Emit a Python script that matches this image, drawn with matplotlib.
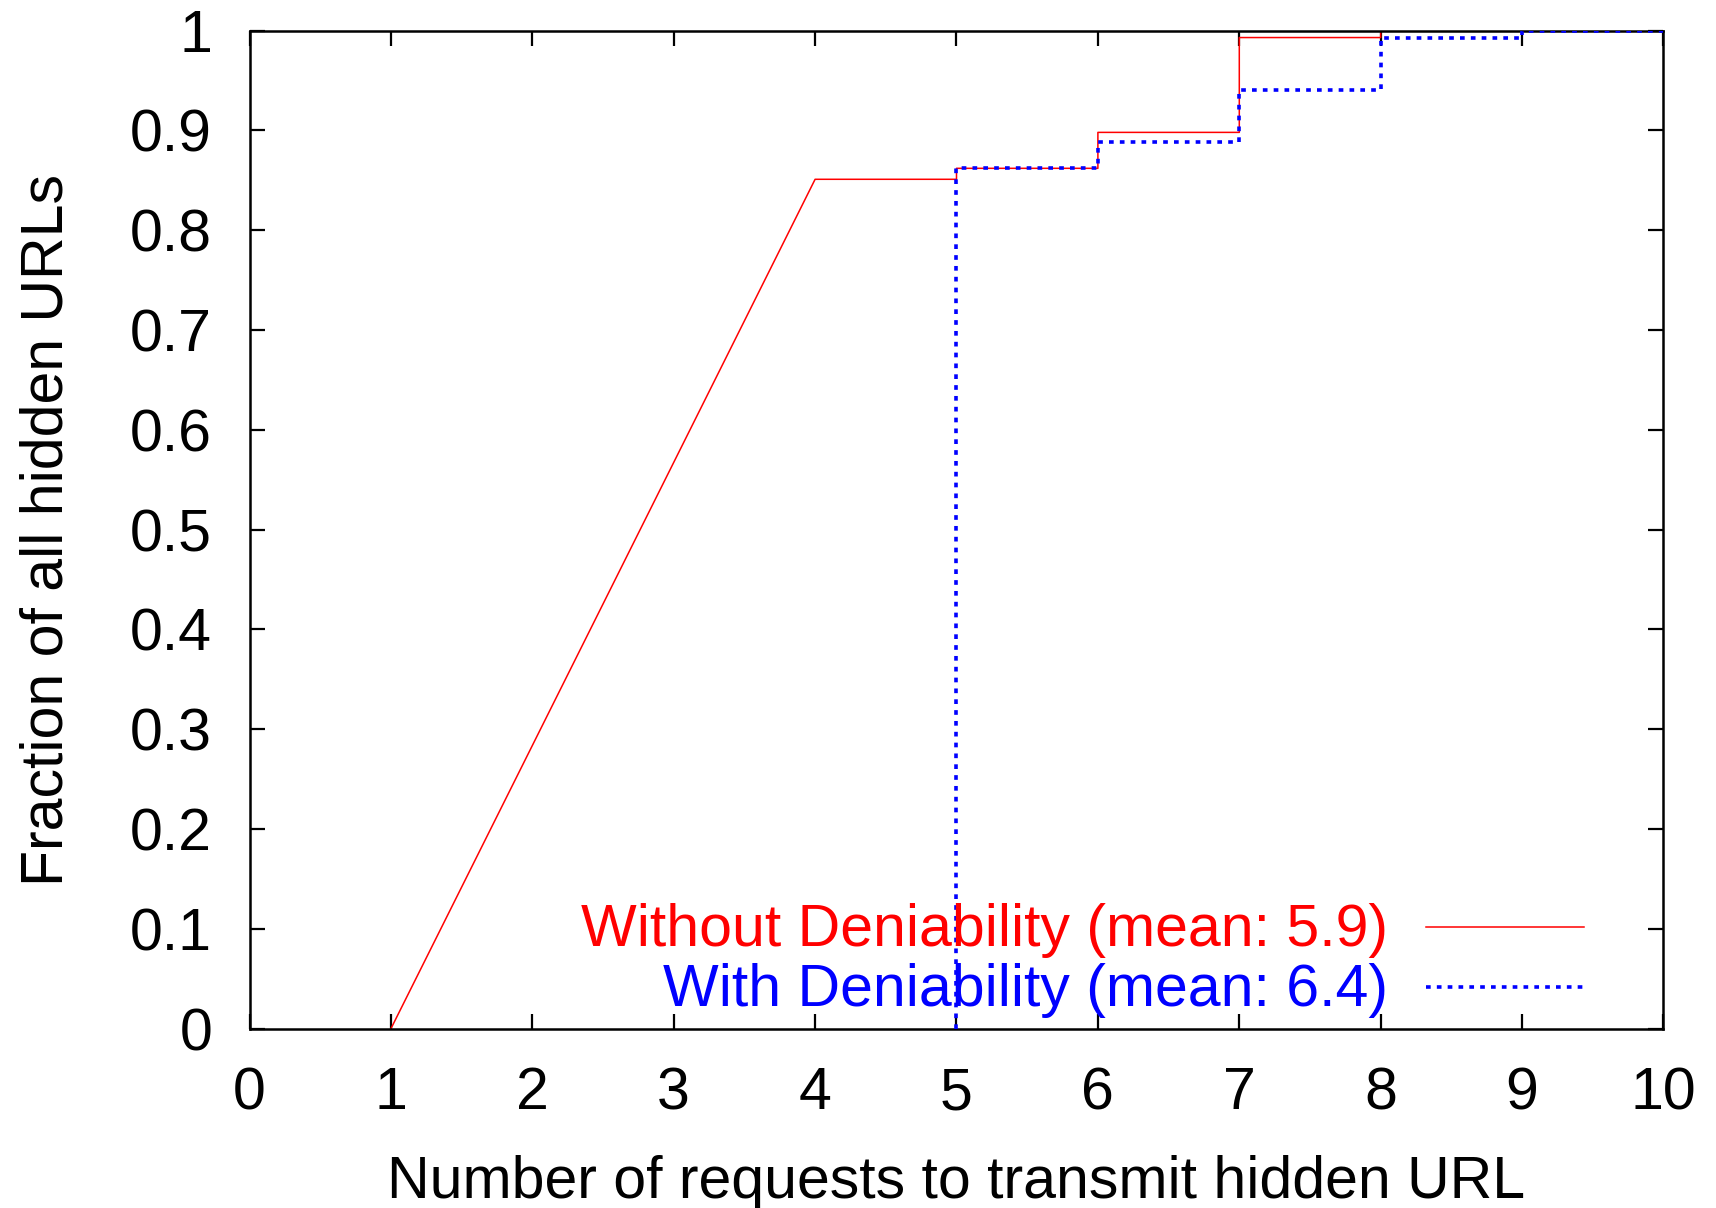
#!/usr/bin/env python3
"""
CDF of the number of requests needed to transmit a hidden URL,
with and without deniability (gnuplot-style look).
"""
import matplotlib
matplotlib.use("Agg")
import matplotlib.pyplot as plt
import numpy as np

# Without deniability: ramps from 1 to 4, then steps
red_x = [1, 4, 5, 6, 7, 8, 9, 10]
red_y = [0.0, 0.851, 0.862, 0.898, 0.993, 1.0, 1.0, 1.0]

# With deniability: nothing before 5 requests, then steps
blue_x = [5, 5, 6, 7, 8, 9, 10]
blue_y = [0.0, 0.862, 0.888, 0.940, 0.993, 1.0, 1.0]

labels = ["Without Deniability (mean: 5.9)", "With Deniability (mean: 6.4)"]
colors = ["#ff0000", "#0000ff"]

plt.rcParams["font.family"] = ["Liberation Sans", "DejaVu Sans"]
FS = 42.5
DOTS = (0, (1.3, 1.7))

fig = plt.figure(figsize=(17.16, 12.08), dpi=100)
ax = fig.add_axes([0.1454, 0.1484, 0.8240, 0.8263])

# red: straight ramp for the first segment, then gnuplot-like steps
rx = [red_x[0]]
ry = [red_y[0]]
for i in range(1, len(red_x)):
    if i > 1:
        rx.append(red_x[i])
        ry.append(red_y[i - 1])
    rx.append(red_x[i])
    ry.append(red_y[i])
ax.plot(rx, ry, color=colors[0], lw=1.1, zorder=2)

ax.step(blue_x, blue_y, where="post", color=colors[1], lw=2.6,
        linestyle=DOTS, zorder=3)

ax.set_xlim(0, 10)
ax.set_ylim(0, 1)
ax.set_xticks(np.arange(0, 11, 1))
ax.set_yticks(np.arange(0, 1.01, 0.1))
ax.set_yticklabels(["0"] + [f"{v:.1f}" for v in np.arange(0.1, 1.0, 0.1)] + ["1"])

for s in ax.spines.values():
    s.set_linewidth(1.8)
ax.tick_params(direction="in", length=11, width=1.6, labelsize=FS,
               top=True, right=True)
ax.tick_params(axis="x", pad=27)
ax.tick_params(axis="y", pad=27)

ax.set_xlabel("Number of requests to transmit hidden URL", fontsize=FS, labelpad=24)
ax.set_ylabel("Fraction of all hidden URLs", fontsize=FS, labelpad=40)

# gnuplot-style key: right-aligned text, sample line on the right
key_y = [0.102, 0.042]
key_styles = [dict(lw=1.1, linestyle="-"), dict(lw=2.6, linestyle=DOTS)]
for lab, col, yy, st in zip(labels, colors, key_y, key_styles):
    ax.text(0.805, yy - 0.004, lab, transform=ax.transAxes, ha="right", va="center",
            fontsize=FS, color=col, zorder=4)
    ax.plot([0.832, 0.944], [yy, yy], transform=ax.transAxes, color=col,
            clip_on=False, zorder=4, **st)

fig.savefig("out.png", dpi=100)
plt.close(fig)
